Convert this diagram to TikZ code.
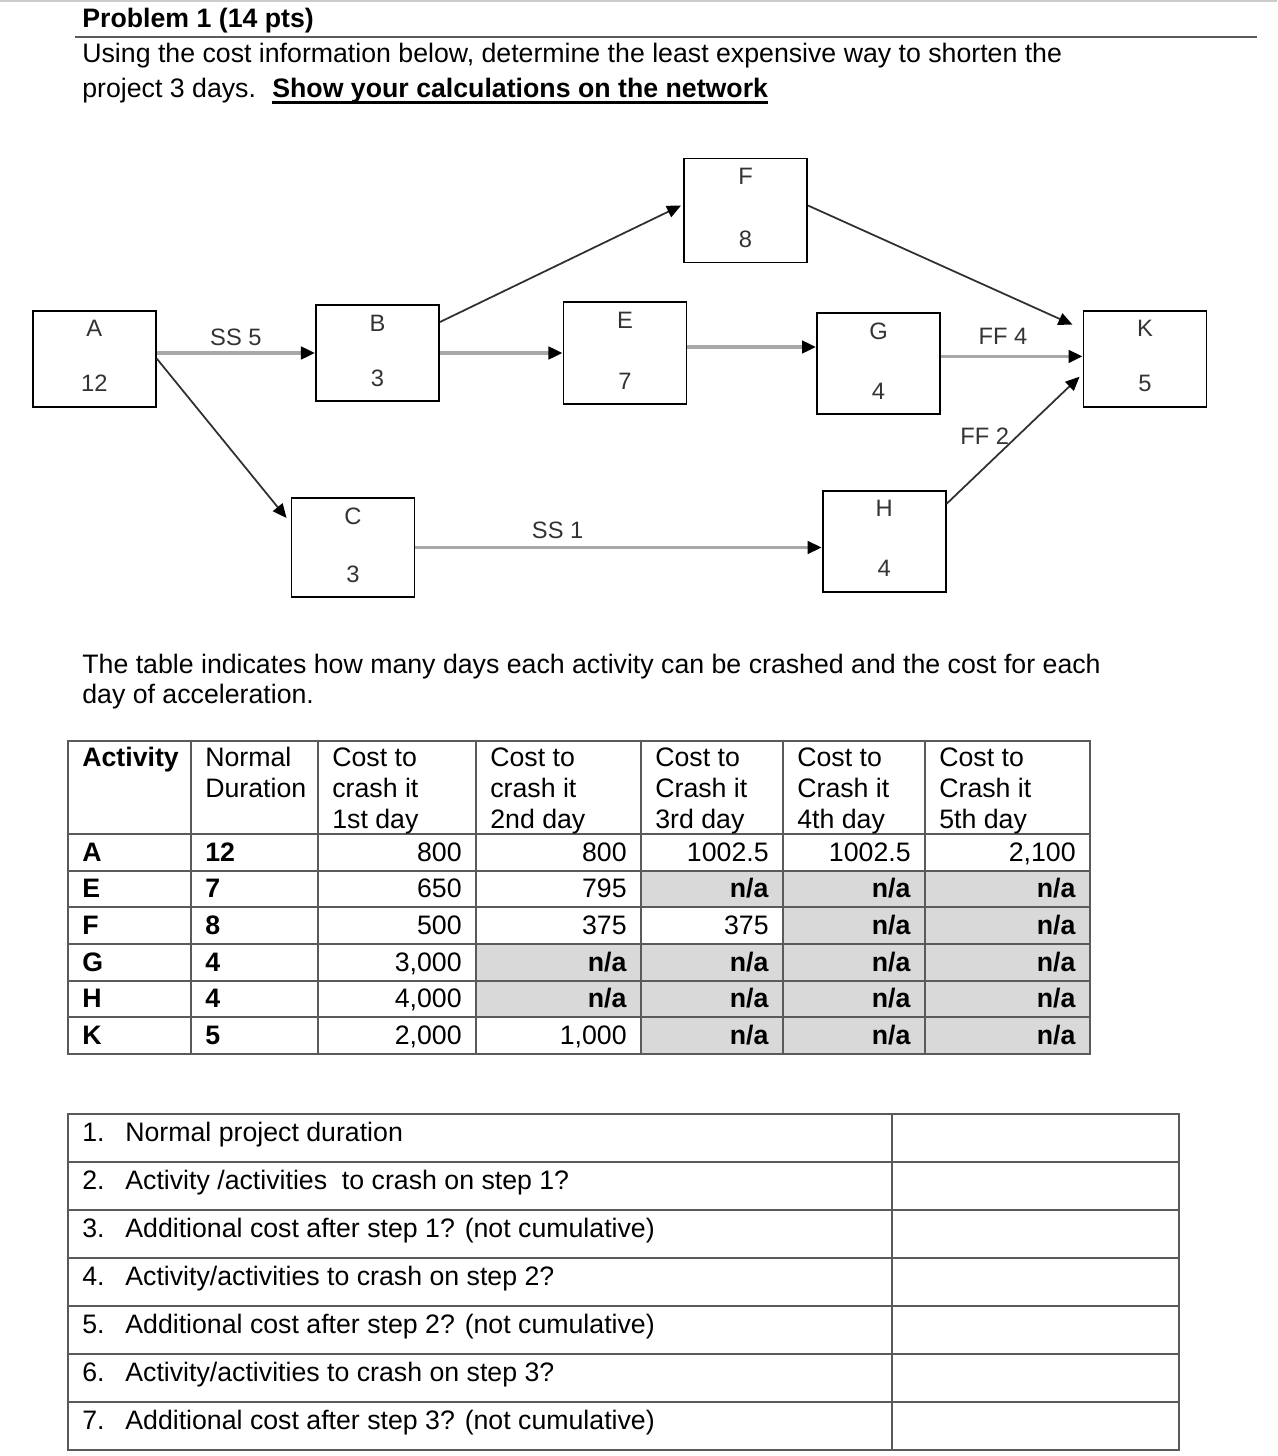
\documentclass[tikz,border=0pt]{standalone}
\usepackage{fontspec}
\setmainfont{Liberation Sans}
\usepackage{tikz}
\usetikzlibrary{arrows.meta,calc}
\definecolor{linkgray}{HTML}{A8A8A8}
\definecolor{linkdark}{HTML}{303030}
\definecolor{boxtext}{HTML}{333333}
\definecolor{cellgray}{HTML}{D9D9D9}
\definecolor{rulegray}{HTML}{5A5A5A}
\newcommand{\na}{\textbf{n/a}}

\begin{document}
\begin{tikzpicture}[x=0.02cm,y=-0.02cm,
    bodytext/.style={inner sep=0pt,anchor=base west,font=\fontsize{15.2}{18}\selectfont},
    cellnum/.style={inner sep=0pt,anchor=base east,font=\fontsize{15.2}{18}\selectfont},
    actbox/.style={draw,line width=1.1pt,minimum width=2.46cm,minimum height=1.95cm},
    acttxt/.style={inner sep=0pt,text=boxtext,font=\fontsize{13.5}{15}\selectfont},
    lagtxt/.style={inner sep=0pt,text=boxtext,font=\fontsize{13.5}{15}\selectfont},
    lagarrow/.style={line width=2pt,linkgray,-{Triangle[length=8pt,width=7pt,black]}},
    linkarrow/.style={line width=1pt,linkdark,-{Triangle[length=8pt,width=7pt,black]}}]
    \useasboundingbox (0,0) rectangle (1277,1456);
    \draw[gray!40,line width=0.8pt] (0,1) -- (1277,1);
    \node[bodytext] (title) at (82,28) {\bfseries Problem 1 (14 pts)};
    \draw[rulegray,line width=0.9pt] (75,37) -- (1257,37);
    \node[bodytext] (intro1) at (82,63) {Using the cost information below, determine the least expensive way to shorten the};
    \node[bodytext] (intro2) at (82,98) {project 3 days.};
    \node[bodytext] (show) at (272,98) {\bfseries Show your calculations on the network};
    \draw[line width=1.3pt] ($(show.base west)+(0,4.5)$) -- ($(show.base east)+(0,4.5)$);

    \foreach \n/\x/\y/\h/\dd in {A/94.4/358.7/96/12, B/377.5/353/96/3, C/353/547.5/99/3, E/625/353/102/7,
        F/745.5/210.5/104/8, G/878.5/363.4/101/4, H/884.2/541.2/101/4, K/1145/358.7/96/5} {
      \node[actbox,minimum height=\h*0.02cm] (\n) at (\x,\y) {};
      \node[acttxt] (\n-name) at ($(\n.north)+(0,19)$) {\n};
      \node[acttxt] (\n-dur) at ($(\n.south)+(0,-24)$) {\dd};
    }
    \coordinate (e-out) at ($(E.east)+(0,-6)$);
    \coordinate (g-out) at ($(G.east)+(0,-7)$);
    \draw[lagarrow] (A.east |- B.west) -- (B.west) node[lagtxt,midway,above=3pt] (ss5) {SS 5};
    \draw[linkarrow] (A.east) -- ($(C.north west)+(-4,21)$);
    \draw[linkarrow] ($(B.north east)+(0,18)$) -- ($(F.west)+(-2,-5)$);
    \draw[lagarrow] (B.east) -- (B.east -| E.west);
    \draw[lagarrow] (e-out) -- (e-out -| G.west);
    \draw[linkarrow] ($(F.east)+(0,-5)$) -- ($(K.north west)+(-10,15)$);
    \draw[lagarrow] (g-out) -- (g-out -| K.west) node[lagtxt,midway,above=6pt,xshift=-5pt] (ff4) {FF 4};
    \draw[linkarrow] ($(H.north east)+(0,14)$) -- ($(K.west)+(-3,18)$) node[lagtxt,pos=0.53,left=4pt] (ff2) {FF 2};
    \draw[lagarrow] (C.east) -- (C.east -| H.west) node[lagtxt,pos=0.35,above=4pt] (ss1) {SS 1};

    \node[bodytext] (note1) at (82,673) {The table indicates how many days each activity can be crashed and the cost for each};
    \node[bodytext] (note2) at (82,703) {day of acceleration.};

    \foreach \xa/\ya/\yb in {641/870.67/907.33, 783/907.33/944, 476/944/980.67, 476/980.67/1017.33, 641/1017.33/1054}
      \fill[cellgray] (\xa,\ya) rectangle (1090,\yb);
    \foreach \y in {741,834,870.67,907.33,944,980.67,1017.33,1054}
      \draw[rulegray,line width=1pt,line cap=rect] (68,\y) -- (1090,\y);
    \foreach \x in {68,191,318,476,641,783,925,1090}
      \draw[rulegray,line width=1pt,line cap=rect] (\x,741) -- (\x,1054);
    \node[bodytext] (head-act) at (82,766) {\bfseries Activity};
    \node[bodytext] (head-dur1) at (205,766) {Normal};
    \node[bodytext] (head-dur2) at (205,797) {Duration};
    \foreach \x/\la/\lb/\lc [count=\ci] in {332/Cost to/crash it/1st day, 490/Cost to/crash it/2nd day,
        655/Cost to/Crash it/3rd day, 797/Cost to/Crash it/4th day, 939/Cost to/Crash it/5th day} {
      \node[bodytext] (head-\ci-a) at (\x,766) {\la};
      \node[bodytext] (head-\ci-b) at (\x,797) {\lb};
      \node[bodytext] (head-\ci-c) at (\x,828) {\lc};
    }
    \foreach \act/\dur/\ca/\cb/\cc/\cd/\ce [count=\rowi,evaluate=\rowi as \yb using 824.33+36.67*\rowi] in
        {A/12/800/800/1002.5/1002.5/{2,100}, E/7/650/795/\na/\na/\na, F/8/500/375/375/\na/\na,
         G/4/{3,000}/\na/\na/\na/\na, H/4/{4,000}/\na/\na/\na/\na, K/5/{2,000}/{1,000}/\na/\na/\na} {
      \node[bodytext] (row-\rowi-act) at (82,\yb) {\bfseries\act};
      \node[bodytext] (row-\rowi-dur) at (205,\yb) {\bfseries\dur};
      \node[cellnum] (row-\rowi-c1) at (462,\yb) {\ca};
      \node[cellnum] (row-\rowi-c2) at (627,\yb) {\cb};
      \node[cellnum] (row-\rowi-c3) at (769,\yb) {\cc};
      \node[cellnum] (row-\rowi-c4) at (911,\yb) {\cd};
      \node[cellnum] (row-\rowi-c5) at (1076,\yb) {\ce};
    }

    \foreach \y in {1114,1162,...,1450}
      \draw[rulegray,line width=1pt,line cap=rect] (68,\y) -- (1179,\y);
    \foreach \x in {68,892,1179}
      \draw[rulegray,line width=1pt,line cap=rect] (\x,1114) -- (\x,1450);
    \foreach \q [count=\qi,evaluate=\qi as \yq using 1093+48*\qi] in {Normal project duration,
        Activity /activities~ to crash on step 1?, Additional cost after step 1? (not cumulative),
        Activity/activities to crash on step 2?, Additional cost after step 2? (not cumulative),
        Activity/activities to crash on step 3?, Additional cost after step 3? (not cumulative)} {
      \node[bodytext] (ask-\qi-num) at (82,\yq) {\qi.};
      \node[bodytext] (ask-\qi) at (125,\yq) {\q};
    }
\end{tikzpicture}
\end{document}
